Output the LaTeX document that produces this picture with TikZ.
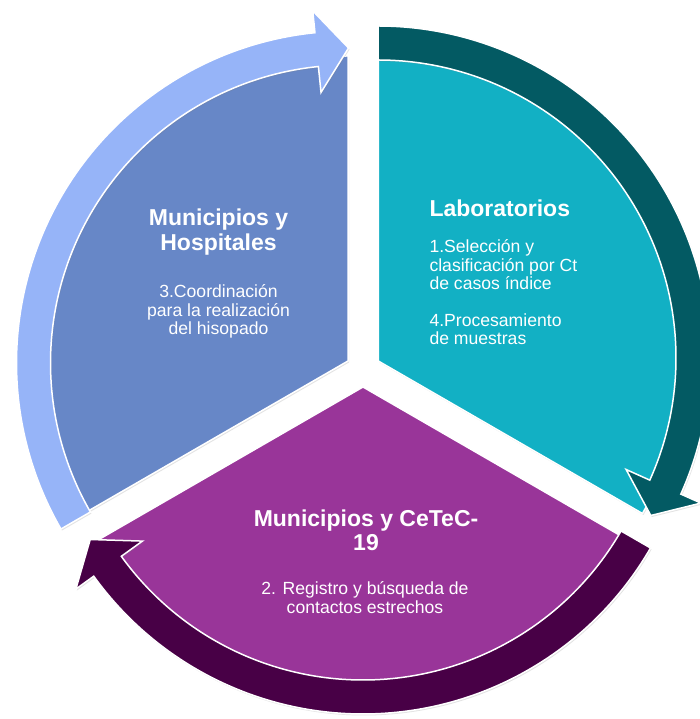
\documentclass[tikz,border=0pt]{standalone}
\usepackage{fontspec}
\setmainfont{Liberation Sans}
\usetikzlibrary{shadows}
\definecolor{secblue}{HTML}{6787C7}
\definecolor{arrblue}{HTML}{96B4F8}
\definecolor{secteal}{HTML}{12B0C4}
\definecolor{arrteal}{HTML}{035A63}
\definecolor{secpurple}{HTML}{993599}
\definecolor{arrpurple}{HTML}{480046}
\tikzset{
  sector/.style={draw=white, line width=1.5pt, line join=miter,
    drop shadow={opacity=0.22, shadow xshift=1pt, shadow yshift=-1.5pt}},
  ringarrow/.style={draw=white, line width=1.5pt, line join=miter,
    drop shadow={opacity=0.22, shadow xshift=1pt, shadow yshift=-1.5pt}},
  titletext/.style={text=white, font=\fontsize{23}{25}\selectfont\bfseries, inner sep=0pt, anchor=base},
  bodytext/.style={text=white, font=\fontsize{17.6}{18.5}\selectfont, inner sep=0pt, anchor=base},
}
% #1 options, #2 centre, #3 start angle, #4 tip angle (clockwise arrow)
\newcommand\ringarrowdraw[4]{%
  \draw[ringarrow, #1, shift={#2}]
    ({#3}:298) arc[start angle={#3}, end angle={#4+5.8}, radius=298]
    -- ({#4+5.8}:272) -- ({#4}:315) -- ({#4+5.8}:354) -- ({#4+5.8}:332)
    arc[start angle={#4+5.8}, end angle={#3}, radius=332] -- cycle;}
\begin{document}
\begin{tikzpicture}[x=1pt,y=1pt]
\useasboundingbox (0,0) rectangle (699,719);
\fill[white] (0,0) rectangle (699,719);
% sector apexes
\coordinate (cb) at (348,358);
\coordinate (ct) at (378.3,358);
\coordinate (cp) at (363,332);
% sectors
\draw[sector, fill=secblue] (cb) -- +(90:305) arc[start angle=90, end angle=210, radius=305] -- cycle;
\draw[sector, fill=secteal] (ct) -- +(-30:305) arc[start angle=-30, end angle=90, radius=305] -- cycle;
\draw[sector, fill=secpurple] (cp) -- +(210:305) arc[start angle=210, end angle=330, radius=305] -- cycle;
% arrows
\ringarrowdraw{fill=arrblue}{(348.5,356)}{210}{90}
\ringarrowdraw{fill=arrteal}{(378,361)}{90}{-30}
\ringarrowdraw{fill=arrpurple}{(363,337)}{330}{210}
% texts: Municipios y Hospitales
\node[titletext] (hA) at (218.5,493) {Municipios y};
\node[titletext] (hB) at (218.5,468) {Hospitales};
\node[bodytext] (hC) at (218.5,421) {3.Coordinación};
\node[bodytext] (hD) at (218.5,402.7) {para la realización};
\node[bodytext] (hE) at (218.5,384.4) {del hisopado};
% Laboratorios
\node[titletext, anchor=base west] (lA) at (429.3,502) {Laboratorios};
\node[bodytext, anchor=base west] (lB) at (429.3,466.3) {1.Selección y};
\node[bodytext, anchor=base west] (lC) at (429.3,447.3) {clasificación por Ct};
\node[bodytext, anchor=base west] (lD) at (429.3,429) {de casos índice};
\node[bodytext, anchor=base west] (lE) at (429.3,392.3) {4.Procesamiento};
\node[bodytext, anchor=base west] (lF) at (429.3,374.7) {de muestras};
% Municipios y CeTeC-19
\node[titletext] (pA) at (366,192) {Municipios y CeTeC-};
\node[titletext] (pB) at (366,168) {19};
\node[bodytext] (pC) at (365,124) {2. Registro y búsqueda de};
\node[bodytext] (pD) at (365,105.7) {contactos estrechos};
\end{tikzpicture}
\end{document}
